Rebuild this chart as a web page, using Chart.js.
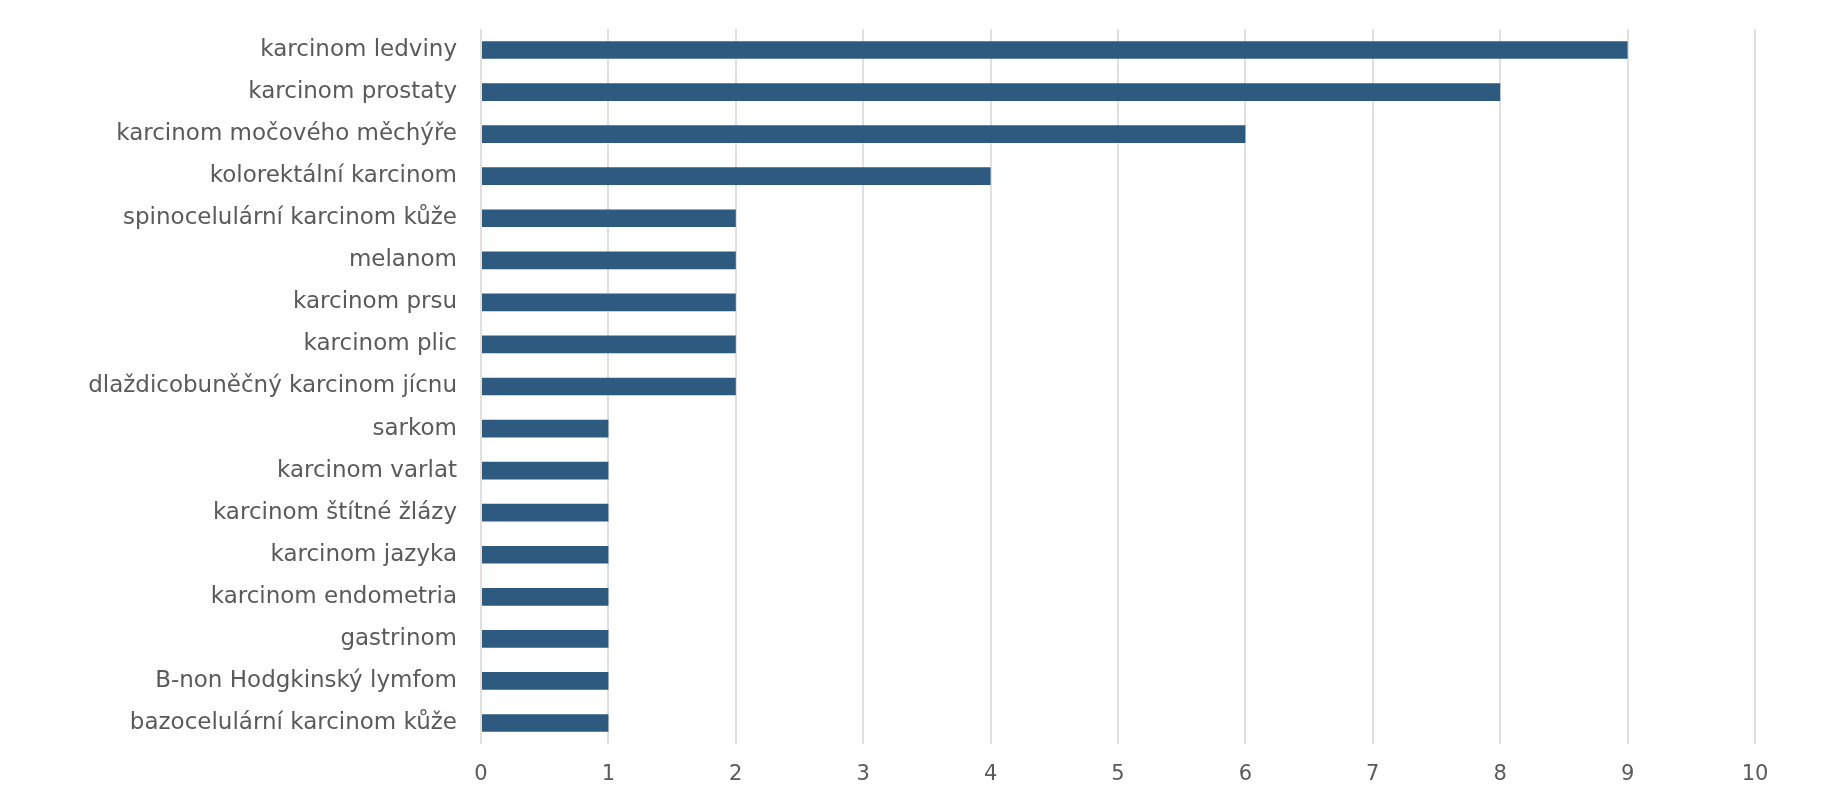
<!DOCTYPE html>
<html>
<head>
<meta charset="utf-8">
<script src="https://cdn.jsdelivr.net/npm/chart.js@4/dist/chart.umd.min.js"></script>
<style>
  html, body { margin: 0; padding: 0; background: #fff; }
  #wrap { width: 1844px; height: 800px; position: relative; }
</style>
</head>
<body>
<div id="wrap"><canvas id="grafica"></canvas></div>
<script>
// datos
const diagnozy = [
  "karcinom ledviny",
  "karcinom prostaty",
  "karcinom močového měchýře",
  "kolorektální karcinom",
  "spinocelulární karcinom kůže",
  "melanom",
  "karcinom prsu",
  "karcinom plic",
  "dlaždicobuněčný karcinom jícnu",
  "sarkom",
  "karcinom varlat",
  "karcinom štítné žlázy",
  "karcinom jazyka",
  "karcinom endometria",
  "gastrinom",
  "B-non Hodgkinský lymfom",
  "bazocelulární karcinom kůže"
];
const pocty = [9, 8, 6, 4, 2, 2, 2, 2, 2, 1, 1, 1, 1, 1, 1, 1, 1];
const osaX = { min: 0, max: 10, krok: 1 };

// barvy
const barvaSloupcu = "#2f5a80";
const barvaTextu = "#5a5a5a";
const barvaMrizky = "#e0e0e0";

const ctx = document.getElementById("grafica").getContext("2d");
let chart = new Chart(ctx, {
  type: "bar",
  data: {
    labels: diagnozy,
    datasets: [{
      data: pocty,
      backgroundColor: barvaSloupcu,
      borderWidth: 0,
      barPercentage: 0.42,
      categoryPercentage: 1
    }]
  },
  options: {
    indexAxis: "y",
    responsive: true,
    maintainAspectRatio: false,
    animation: false,
    layout: { padding: { top: 29, right: 89, bottom: 0, left: 0 } },
    plugins: {
      legend: { display: false },
      tooltip: { enabled: false }
    },
    scales: {
      x: {
        min: osaX.min,
        max: osaX.max,
        ticks: {
          stepSize: osaX.krok,
          color: barvaTextu,
          padding: 18,
          font: { family: "DejaVu Sans", size: 21 }
        },
        grid: { color: barvaMrizky, lineWidth: 2, drawTicks: false },
        border: { display: false },
        afterFit: (s) => { s.height = 56; }
      },
      y: {
        ticks: {
          color: barvaTextu,
          padding: 24,
          font: { family: "DejaVu Sans", size: 23 }
        },
        grid: { display: false, drawTicks: false },
        border: { display: false },
        // osa zacina na x=481, bez extra odsazeni nahore/dole
        afterFit: (s) => { s.width = 481; s.paddingTop = 0; s.paddingBottom = 0; }
      }
    }
  }
});
</script>
</body>
</html>
